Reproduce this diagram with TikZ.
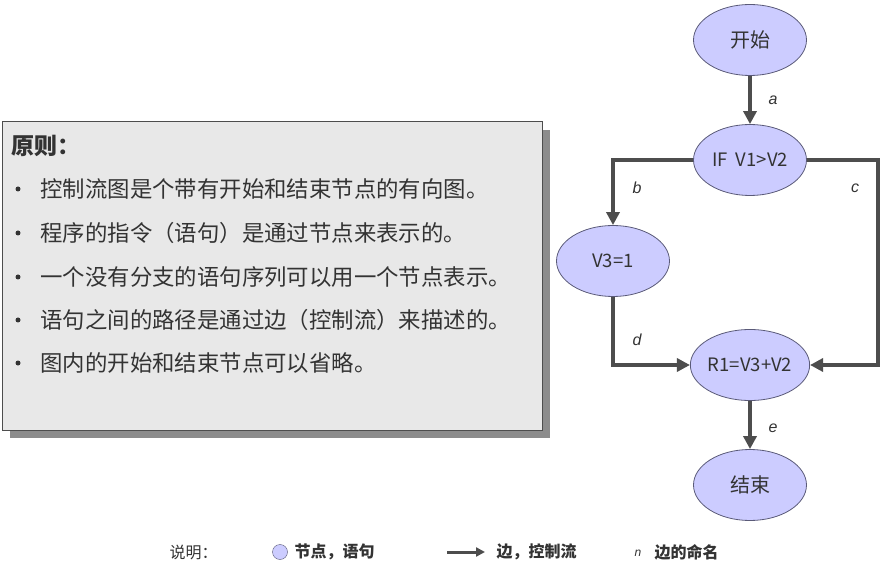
\documentclass[tikz,border=0pt]{standalone}
\usepackage{fontspec}
\setmainfont{Noto Sans CJK SC}
\newfontfamily\lblfont{Liberation Sans}
\usetikzlibrary{arrows.meta,shapes.geometric}
\definecolor{nodefill}{HTML}{CCCCFF}
\definecolor{nodeline}{HTML}{5A5A78}
\definecolor{linegray}{HTML}{4D4D4D}
\definecolor{boxfill}{HTML}{E8E8E8}
\definecolor{shadowgray}{HTML}{8C8C8C}
\definecolor{textgray}{HTML}{333333}
\tikzset{
  stmt/.style={ellipse, draw=nodeline, line width=0.8pt, fill=nodefill, inner sep=0pt,
    minimum width=113pt, minimum height=71pt, text=textgray, font=\fontsize{18.5}{20}\selectfont},
  flow/.style={draw=linegray, line width=4pt,
    -{Triangle[length=13pt,width=13pt]}},
  edgename/.style={text=textgray, font=\lblfont\itshape\fontsize{16}{18}\selectfont},
  rule/.style={anchor=west, text=textgray, font=\fontsize{22.4}{26}\selectfont},
  dot/.style={circle, fill=textgray, inner sep=0pt, minimum size=5pt},
  legend/.style={anchor=west, text=textgray, font=\bfseries\fontsize{16}{18}\selectfont}
}
\begin{document}
\begin{tikzpicture}[x=1pt,y=-1pt]
  \useasboundingbox[fill=white] (0,0) rectangle (881,569);
  %%%%% START %%%%%

  % principle box
  \fill[shadowgray] (10,130) rectangle (550,438);
  \draw[fill=boxfill, draw=linegray, line width=1pt] (2,122) rectangle (542,430);
  \node[anchor=west, text=textgray, font=\bfseries\fontsize{23}{26}\selectfont] (title) at (8,146) {原则：};

  \node[dot] (d1) at (18,189) {};
  \node[rule] (r1) at (37,189) {控制流图是个带有开始和结束节点的有向图。};
  \node[dot] (d2) at (18,233) {};
  \node[rule] (r2) at (37,233) {程序的指令（语句）是通过节点来表示的。};
  \node[dot] (d3) at (18,277) {};
  \node[rule] (r3) at (37,277) {一个没有分支的语句序列可以用一个节点表示。};
  \node[dot] (d4) at (18,320) {};
  \node[rule] (r4) at (37,320) {语句之间的路径是通过边（控制流）来描述的。};
  \node[dot] (d5) at (18,363) {};
  \node[rule] (r5) at (37,363) {图内的开始和结束节点可以省略。};

  % flow graph
  \node[stmt, font=\fontsize{20}{22}\selectfont] (start) at (750,40) {开始};
  \node[stmt] (cond) at (750,160) {IF\ \ V1>V2};
  \node[stmt] (assign) at (613,261) {V3=1};
  \node[stmt] (sum) at (750,365) {R1=V3+V2};
  \node[stmt, font=\fontsize{20}{22}\selectfont] (stop) at (750,485) {结束};
  \coordinate (right) at (878,0);

  \draw[flow] (start) -- (cond);
  \draw[flow] (cond.west) -| (assign.north);
  \draw[flow] (cond.east) -- (cond.east -| right) -- (sum.east -| right) -- (sum.east);
  \draw[flow] (assign.south) |- (sum.west);
  \draw[flow] (sum) -- (stop);

  \node[edgename] (la) at (773,100) {a};
  \node[edgename] (lb) at (637,188) {b};
  \node[edgename] (lc) at (855,188) {c};
  \node[edgename] (ld) at (637,340) {d};
  \node[edgename] (le) at (773,428) {e};

  % legend
  \node[anchor=west, text=textgray, font=\fontsize{16}{18}\selectfont] (key) at (166,552) {说明：};
  \node[circle, draw=nodeline, fill=nodefill, inner sep=0pt, minimum size=15pt] (keynode) at (280,552) {};
  \node[legend] (keynodetext) at (291,552) {节点，语句};
  \coordinate (keyfrom) at (447,552);
  \coordinate (keyto) at (485,552);
  \draw[draw=linegray, line width=3pt, -{Triangle[length=9pt,width=9pt]}] (keyfrom) -- (keyto);
  \node[legend] (keyflowtext) at (493,552) {边，控制流};
  \node[edgename, font=\lblfont\itshape\fontsize{12}{14}\selectfont] (keyn) at (638,553) {n};
  \node[legend] (keynametext) at (651,552) {边的命名};

  %%%%% END %%%%%
\end{tikzpicture}
\end{document}
